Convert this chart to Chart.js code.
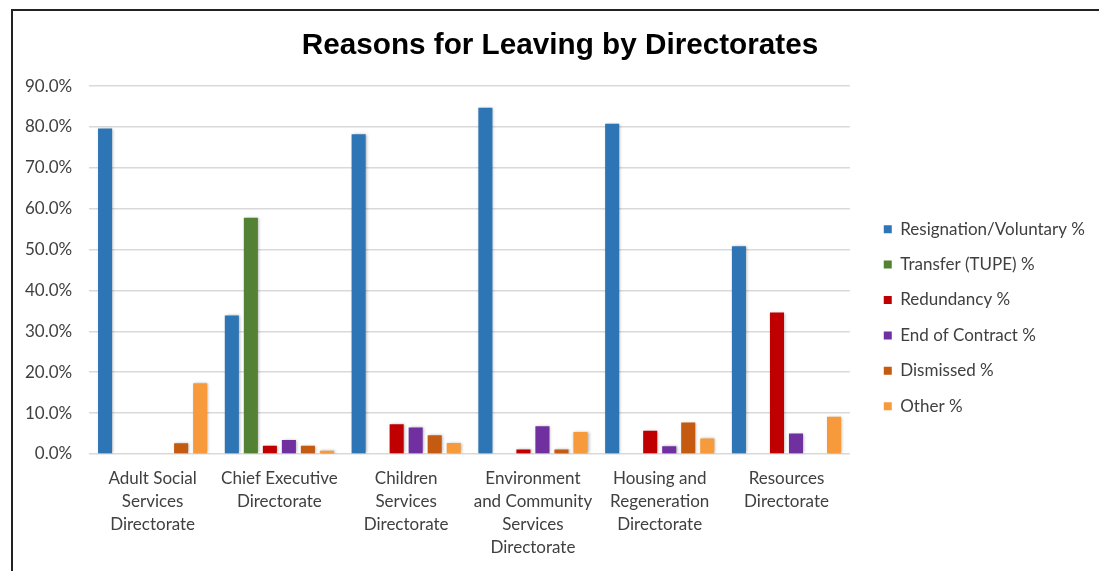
<!DOCTYPE html>
<html>
<head>
<meta charset="utf-8">
<script src="https://cdn.jsdelivr.net/npm/chart.js@4"></script>
<style>
    html, body { margin: 0; padding: 0; background: #fff; }
    #wrap { position: relative; width: 1099px; height: 571px; overflow: hidden; }
    #frame { position: absolute; left: 11px; top: 9px; width: 1200px; height: 700px; border: 2px solid #222; box-sizing: border-box; }
    canvas { position: absolute; left: 0; top: 0; }
</style>
</head>
<body>
<div id="wrap">
    <div id="frame"></div>
    <canvas id="chart" width="1099" height="571"></canvas>
</div>
<script>
const directorates = [
    ['Adult Social', 'Services', 'Directorate'],
    ['Chief Executive', 'Directorate'],
    ['Children', 'Services', 'Directorate'],
    ['Environment', 'and Community', 'Services', 'Directorate'],
    ['Housing and', 'Regeneration', 'Directorate'],
    ['Resources', 'Directorate']
];
const reasons = ['Resignation/Voluntary %', 'Transfer (TUPE) %', 'Redundancy %', 'End of Contract %', 'Dismissed %', 'Other %'];
const resignation = [79.6, 33.9, 78.2, 84.7, 80.8, 50.8];
const transfer = [0, 57.8, 0, 0, 0, 0];
const redundancy = [0, 2.0, 7.3, 1.1, 5.7, 34.6];
const endOfContract = [0, 3.4, 6.5, 6.8, 1.9, 5.0];
const dismissed = [2.6, 2.0, 4.6, 1.1, 7.7, 0];
const other = [17.3, 0.8, 2.7, 5.4, 3.8, 9.1];
const yTicks = [0, 10, 20, 30, 40, 50, 60, 70, 80, 90];

const colors = ['#2E75B6', '#548235', '#C00000', '#7030A0', '#C55A11', '#F79A3B'];
const series = [resignation, transfer, redundancy, endOfContract, dismissed, other];

const labelFont = "Lato, 'Open Sans', sans-serif";
const textColor = '#404040';

// soft drop shadow under bars, like the spreadsheet export
const barShadow = {
    id: 'barShadow',
    beforeDatasetsDraw(chart) {
        const ctx = chart.ctx;
        ctx.save();
        ctx.shadowColor = 'rgba(0,0,0,0.35)';
        ctx.shadowBlur = 3;
        ctx.shadowOffsetX = 1;
        ctx.shadowOffsetY = 0;
    },
    afterDatasetsDraw(chart) {
        chart.ctx.restore();
    }
};

new Chart(document.getElementById('chart'), {
    type: 'bar',
    data: {
        labels: directorates,
        datasets: series.map((data, i) => ({
            label: reasons[i],
            data,
            backgroundColor: colors[i],
            borderWidth: 0,
            categoryPercentage: 0.9,
            barPercentage: 0.74
        }))
    },
    options: {
        responsive: false,
        animation: false,
        layout: { padding: { left: 25, right: 4, top: 9, bottom: -2 } },
        plugins: {
            title: {
                display: true,
                text: 'Reasons for Leaving by Directorates',
                color: '#000',
                font: { family: "'Liberation Sans', Arial, sans-serif", size: 29.7, weight: 'bold', lineHeight: 1.2 },
                padding: { top: 18.7, bottom: 22.7 }
            },
            legend: {
                position: 'right',
                maxWidth: 260,
                // blank title only pushes the items down to where the original has them
                title: { display: true, text: ' ', font: { size: 12, lineHeight: 1.2 }, padding: { top: 19.5, bottom: 19.5 } },
                labels: {
                    boxWidth: 8,
                    boxHeight: 8,
                    padding: 18.4,
                    color: textColor,
                    font: { family: labelFont, size: 17 }
                }
            },
            tooltip: { enabled: false }
        },
        scales: {
            x: {
                grid: { display: false, drawTicks: false },
                border: { display: false },
                ticks: {
                    color: textColor,
                    maxRotation: 0,
                    autoSkip: false,
                    padding: 13.5,
                    font: { family: labelFont, size: 17, lineHeight: 1.353 }
                },
                afterFit: axis => { axis.paddingLeft = 0; axis.paddingRight = 0; }
            },
            y: {
                min: 0,
                max: 90,
                afterBuildTicks: axis => { axis.ticks = yTicks.map(v => ({ value: v })); },
                grid: { color: '#d9d9d9', lineWidth: 1.5, drawTicks: false },
                border: { display: false },
                ticks: {
                    color: textColor,
                    padding: 17,
                    font: { family: labelFont, size: 17 },
                    callback: v => v.toFixed(1) + '%'
                },
                // chart.js reserves the tick padding on both sides; keep it only next to the plot
                afterFit: axis => { axis.width -= axis.options.ticks.padding; }
            },
            // empty axis that only keeps a gap between the plot and the legend
            gap: {
                type: 'linear',
                position: 'right',
                grid: { display: false, drawTicks: false },
                border: { display: false },
                ticks: { display: false },
                afterFit: axis => { axis.width = 15.5; }
            }
        }
    },
    plugins: [barShadow]
});
</script>
</body>
</html>
